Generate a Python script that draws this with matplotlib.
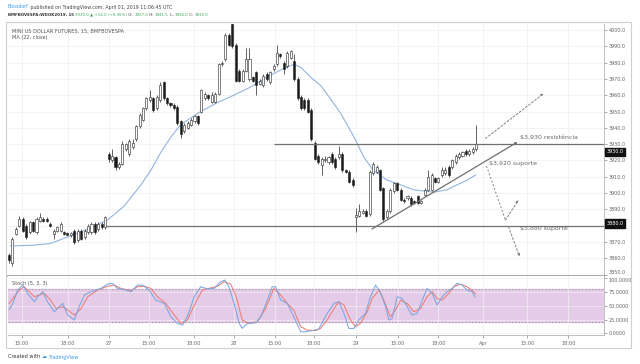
import matplotlib
matplotlib.use('Agg')
import matplotlib.pyplot as plt
from matplotlib.patches import Rectangle
from matplotlib.transforms import blended_transform_factory

plt.rcParams['font.family'] = ['DejaVu Sans']

# ---------------- data ----------------
opens = [3862, 3857, 3875, 3880, 3884, 3880, 3876, 3882, 3876, 3883,
         3884, 3884, 3881, 3875, 3877, 3877, 3876, 3875.5, 3874.5, 3877,
         3871, 3877, 3873, 3876, 3876, 3881, 3878, 3881, 3879, 3924,
         3920, 3922, 3916, 3918, 3927, 3924, 3928, 3933, 3941, 3945,
         3952, 3957, 3958, 3952, 3957, 3968, 3958, 3955, 3954, 3953,
         3944, 3938, 3940, 3942, 3944, 3947, 3950, 3958, 3960, 3956,
         3956, 3961, 3979, 3982, 3997, 4004, 3991, 3975, 3969, 3975,
         3970, 3971, 3974, 3967, 3966, 3973, 3968, 3976, 3979, 3985,
         3980, 3978, 3983, 3981, 3970, 3959, 3957, 3957, 3951, 3931,
         3923, 3917, 3920, 3919, 3924, 3921, 3922, 3924, 3914, 3913,
         3908, 3885.5, 3886, 3888, 3889, 3887, 3912, 3913, 3914, 3903,
         3885, 3889, 3901, 3906, 3902, 3896, 3897, 3897, 3895, 3898,
         3894, 3899, 3902, 3902, 3909, 3907, 3911, 3912, 3916, 3916,
         3919, 3922, 3923, 3926, 3924, 3925, 3927]
highs = [3863, 3873, 3879, 3886, 3885, 3881, 3883, 3883, 3885, 3888,
         3885, 3885, 3882, 3878, 3880, 3882, 3877, 3876, 3876, 3878,
         3878, 3878, 3878, 3881, 3882, 3882, 3882, 3882, 3886, 3925,
         3927, 3923, 3919, 3932, 3931, 3933, 3933, 3942, 3949, 3953,
         3959, 3963, 3959, 3960, 3968, 3969, 3959, 3956, 3955, 3954,
         3945, 3943, 3944, 3946, 3948, 3948, 3964, 3962, 3961, 3962,
         3962, 3980, 3981, 3998, 3998, 4006, 3992, 3976, 3976, 3989,
         3989, 3972, 3975, 3970, 3973, 3974, 3975, 3979, 3991, 3986,
         3981, 3987, 3988, 3985, 3971, 3960, 3958, 3958, 3952, 3932,
         3924, 3922, 3923, 3923, 3925, 3922, 3929, 3925, 3915, 3914,
         3909, 3891, 3893, 3890, 3890, 3914, 3919, 3917, 3915, 3904,
         3890, 3903, 3907, 3907, 3903, 3897, 3899, 3898, 3896, 3899,
         3896, 3903, 3914, 3912, 3910, 3910, 3916, 3916, 3917, 3921,
         3924, 3925, 3926, 3927, 3927, 3928, 3941.5]
lows = [3857, 3855, 3874, 3879, 3876, 3872, 3875, 3876, 3875, 3882,
        3882, 3882, 3879, 3872, 3876, 3876, 3874, 3874, 3873, 3869,
        3870, 3871, 3872, 3875, 3875, 3875, 3877, 3878, 3878, 3919,
        3919, 3914, 3915, 3917, 3926, 3923, 3927, 3932, 3940, 3944,
        3951, 3956, 3950, 3951, 3956, 3957, 3954, 3953, 3951, 3942,
        3934, 3937, 3939, 3941, 3943, 3942, 3949, 3957, 3957, 3955,
        3955, 3960, 3978, 3981, 3990, 3989, 3968, 3968, 3968, 3974,
        3969, 3968, 3960, 3966, 3965, 3969, 3967, 3975, 3978, 3983,
        3973, 3977, 3982, 3969, 3957, 3951, 3951, 3949, 3932, 3920,
        3918, 3911, 3919, 3918, 3918, 3915, 3921, 3913, 3912, 3906,
        3904, 3876, 3885, 3887, 3885, 3886, 3911, 3912, 3901, 3883,
        3884, 3888, 3900, 3901, 3895, 3894, 3896, 3892, 3893, 3893,
        3893, 3898, 3901, 3901, 3906, 3906, 3910, 3911, 3910, 3915,
        3918, 3921, 3922, 3923, 3923, 3924, 3926]
closes = [3859, 3872, 3878, 3884, 3877, 3873, 3882, 3877, 3884, 3885,
          3883, 3883, 3880, 3877, 3879, 3881, 3875, 3874.5, 3875.5, 3870,
          3877, 3872, 3877, 3880, 3881, 3876, 3881, 3879, 3885, 3921,
          3923, 3916, 3918, 3930, 3930, 3932, 3931, 3941, 3948, 3952,
          3958, 3959, 3951, 3959, 3966, 3958, 3955, 3954, 3952, 3943,
          3936, 3942, 3943, 3945, 3947, 3943, 3963, 3961, 3958, 3960,
          3961, 3979, 3980, 3997, 3991, 3990, 3969, 3969, 3975, 3982,
          3982, 3969, 3966, 3969, 3972, 3970, 3974, 3978, 3986, 3984,
          3976, 3986, 3987, 3970, 3958, 3952, 3952, 3950, 3933, 3921,
          3919, 3921, 3921, 3922, 3919, 3916, 3924, 3914, 3913, 3907,
          3905, 3886.5, 3889, 3889, 3886, 3913, 3918, 3916, 3902, 3884,
          3889, 3902, 3906, 3902, 3896, 3895, 3898, 3893, 3894, 3894,
          3895, 3902, 3910, 3911, 3907, 3909, 3914, 3914, 3911, 3920,
          3923, 3924, 3925, 3924, 3926, 3927, 3930]

ma_x = [0.5, 7, 12, 17, 23, 28.7, 33.5, 38.4, 41.3, 44.2, 47, 50, 55.8, 60.7, 65.4,
        70.3, 75, 80, 83, 85, 87.8, 90.7, 93.5, 96.5, 100.4, 103.3, 106, 110, 114,
        117.8, 123.6, 127.5, 130.4, 133, 135.8]
ma_v = [3867.5, 3868, 3869, 3873, 3878, 3883.5, 3892, 3905, 3914, 3925, 3934, 3942,
        3950, 3955.5, 3960, 3965, 3971, 3976.5, 3979, 3977, 3971, 3966, 3958, 3949,
        3934.5, 3922, 3914, 3908, 3905, 3902, 3900.5, 3902, 3905, 3907.5, 3911]

k_x = [0.1, 1.1, 2.5, 4.0, 5.4, 7.4, 8.3, 9.8, 11.2, 13.2, 14.6, 15.6, 17.1, 19.0, 20.4,
       21.9, 23.8, 26.7, 28.7, 30.1, 31.6, 33.5, 35.5, 37.4, 38.9, 40.8, 42.7, 45.2, 47.1,
       49.0, 50.5, 51.9, 53.9, 55.8, 57.3, 59.7, 61.6, 62.8, 64.0, 65.5, 67.0, 67.9, 69.4,
       71.8, 73.3, 75.2, 76.6, 77.6, 79.1, 81.0, 82.9, 84.9, 86.3, 88.3, 90.2,
       90.7, 92.6, 94.6, 96.0, 97.5, 98.9, 100.4, 101.8, 103.8, 105.2, 106.7, 108.1, 109.6,
       110.6, 111.5, 113.0, 114.4, 115.9, 117.3, 118.8, 120.3, 121.7, 123.2, 124.6, 126.1,
       127.5, 129.0, 130.4, 131.9, 133.3, 134.8, 135.6]
k_v = [43, 54, 78, 87, 72, 57, 66, 75, 57, 39, 48, 54, 33, 24, 48,
       69, 75, 81, 89, 90, 81, 79, 75, 87, 87, 78, 60, 54, 30,
       18, 15, 30, 66, 84, 81, 81, 93, 96, 84, 54, 18, 9, 18,
       19, 30, 60, 84, 84, 60, 54, 30, 3, 3, 5, 8,
       14, 36, 54, 57, 36, 9, 9, 24, 36, 66, 87, 75, 48,
       24, 27, 66, 63, 48, 33, 36, 60, 81, 72, 51, 66,
       75, 81, 90, 87, 78, 75, 66]
d_x = [0.1, 1.5, 3.0, 4.4, 5.9, 7.4, 8.8, 10.3, 11.7, 13.7, 15.6, 17.1, 19.0, 21.0, 22.9,
       25.8, 28.7, 30.6, 32.6, 35.5, 37.4, 39.3, 41.3, 43.2, 45.6, 48.1, 50.0, 51.9, 54.4,
       56.3, 58.2, 60.7, 62.6, 64.5, 66.0, 67.9, 69.9, 72.3, 74.7, 77.1, 79.1, 81.0, 82.9,
       84.9, 86.8, 89.2,
       90.7, 92.6, 94.6, 96.0, 97.5, 99.4, 100.9, 102.3, 104.3, 105.7, 107.7, 109.1, 111.0,
       112.5, 114.0, 115.9, 117.8, 119.8, 121.7, 123.2, 124.6, 126.1, 128.0, 129.5, 131.4,
       133.3, 135.3, 135.8]
d_v = [54, 66, 78, 84, 75, 66, 69, 72, 63, 45, 48, 42, 33, 45, 66,
       78, 85, 87, 81, 77, 84, 85, 81, 66, 54, 33, 18, 24, 57,
       78, 81, 85, 93, 89, 69, 24, 18, 21, 45, 81, 69, 54, 42,
       12, 6, 5,
       9, 24, 45, 57, 51, 24, 12, 18, 39, 63, 78, 60, 30,
       42, 60, 54, 39, 45, 66, 75, 63, 60, 72, 84, 89,
       84, 75, 71]

tick_pos = [3.8, 17.1, 29.1, 40.7, 53.8, 65.4, 77.3, 88.7, 100.9, 113.1, 125.0, 138.1, 150.9, 162.8]
tick_lbl = ['15:00', '18:00', '27', '15:00', '18:00', '28', '15:00', '18:00', '29',
            '15:00', '18:00', 'Apr', '15:00', '18:00']
price_ticks = list(range(3850, 4001, 10))
stoch_ticks = [0, 25, 50, 75, 100]

# ---------------- figure ----------------
W, H = 640, 364
fig = plt.figure(figsize=(6.4, 3.64), dpi=100)
fig.patch.set_facecolor('white')

def fx(px):
    return px / W

def fy(py):
    return 1 - py / H

ax = fig.add_axes([fx(8), fy(276), fx(596), (276 - 24) / H])
ax2 = fig.add_axes([fx(8), fy(335), fx(596), (335 - 276) / H], sharex=ax)

GRID = '#efefef'
TXT = '#666666'
AX_C = '#b5b5b5'

# candles
xs = list(range(len(opens)))
ax.vlines(xs, lows, highs, color='#222222', lw=0.5, zorder=3)
for i in xs:
    o, c = opens[i], closes[i]
    up = c >= o
    bottom = min(o, c)
    h = max(abs(c - o), 0.5)
    ax.bar(i, h, bottom=bottom, width=0.6, color='white' if up else '#1a1a1a',
           edgecolor='#222222', lw=0.4, zorder=4)

ax.plot(ma_x, ma_v, color='#93b4df', lw=0.8, zorder=2)

ax.set_xlim(-0.3, 173.2)
ax.set_ylim(3849.1, 4003.7)
ax.set_yticks(price_ticks)
ax.set_yticklabels(['' if p == 3880 else f'{p:.1f}' for p in price_ticks])
ax.set_xticks(tick_pos)
ax.tick_params(axis='x', length=0, labelbottom=False)
ax.yaxis.tick_right()
ax.tick_params(axis='y', labelsize=3.5, colors=TXT, length=2, width=0.4, pad=1.5)
for lab in ax.get_yticklabels():
    if lab.get_text() == '3850.0':
        lab.set_va('bottom')
ax.grid(True, color=GRID, lw=0.5, zorder=0)
for s in ['top', 'left']:
    ax.spines[s].set_visible(False)
ax.spines['right'].set_color(AX_C)
ax.spines['right'].set_linewidth(0.6)
ax.spines['bottom'].set_color('#9a9a9a')
ax.spines['bottom'].set_linewidth(1.2)

ax.text(0.007, 0.972, 'MINI US DOLLAR FUTURES, 15, BMFBOVESPA', transform=ax.transAxes,
        fontsize=3.6, color='#555555', va='center', ha='left')
ax.text(0.007, 0.946, 'MA (22, close)', transform=ax.transAxes,
        fontsize=3.6, color='#555555', va='center', ha='left')

# drawings
LC = '#707070'
ax.hlines(3930, 77, 173.2, color=LC, lw=0.9, zorder=5)
ax.hlines(3880, 28.3, 173.2, color=LC, lw=0.9, zorder=5)
ax.plot([105.7, 147.4], [3878, 3930.5], color=LC, lw=0.9, zorder=5)
ax.plot([147.4], [3930.5], marker='o', ms=1.2, color=LC, zorder=5)

def dash_arrow(p0, p1):
    ax.annotate('', xy=p1, xytext=p0,
                arrowprops=dict(arrowstyle='-|>', linestyle=(0, (2, 2)), color='#808080',
                                lw=0.7, mutation_scale=3, shrinkA=0, shrinkB=0), zorder=6)

dash_arrow((138.7, 3933.5), (155.6, 3961))
ax.plot([139, 144.5], [3916.6, 3883.4], color='#808080', lw=0.7, ls=(0, (2, 2)))
dash_arrow((144.5, 3883.4), (148.3, 3895.7))
dash_arrow((145.4, 3879.3), (148.6, 3861))

ax.text(148.8, 3934.5, '$3,930 resistência', fontsize=4.5, color='#6a6a6a', va='center', ha='left')
ax.text(139.8, 3918, '$3,920 suporte', fontsize=4.5, color='#6a6a6a', va='center', ha='left')
ax.text(148.8, 3878, '$3,880 suporte', fontsize=4.5, color='#6a6a6a', va='center', ha='left')

bt = blended_transform_factory(ax.transAxes, ax.transData)
for yv, lbl in [(3925.2, '3930.0'), (3881.3, '3880.0')]:
    ax.text(1.004, yv, lbl, transform=bt, fontsize=3.5, color='white', va='center', ha='left',
            bbox=dict(boxstyle='square,pad=0.35', fc='#111111', ec='#111111'), clip_on=False,
            zorder=10)

# stochastic
ax2.axhspan(20, 80, color='#e4cbe8', zorder=0)
ax2.axhline(80, color='#a68fab', lw=0.6, ls=(0, (2, 2)), zorder=1)
ax2.axhline(20, color='#a68fab', lw=0.6, ls=(0, (2, 2)), zorder=1)
ax2.plot(d_x, d_v, color='#ee7d72', lw=0.75, zorder=3)
ax2.plot(k_x, k_v, color='#7aa6df', lw=0.75, zorder=4)
ax2.set_ylim(-2.9, 103.4)
ax2.set_yticks(stoch_ticks)
ax2.set_yticklabels([f'{v:.4f}' for v in stoch_ticks])
ax2.yaxis.tick_right()
ax2.tick_params(axis='y', labelsize=3.5, colors=TXT, length=2, width=0.4, pad=1.5)
for lab in ax2.get_yticklabels():
    if lab.get_text() == '100.0000':
        lab.set_va('top')
ax2.set_xticks(tick_pos)
ax2.set_xticklabels(tick_lbl)
ax2.tick_params(axis='x', labelsize=3.6, colors=TXT, length=2, width=0.4, pad=2.5)
ax2.grid(True, color=GRID, lw=0.5, zorder=0)
for s in ['top', 'left']:
    ax2.spines[s].set_visible(False)
for s in ['right', 'bottom']:
    ax2.spines[s].set_color(AX_C)
    ax2.spines[s].set_linewidth(0.6)
ax2.text(0.007, 0.88, 'Stoch (5, 3, 3)', transform=ax2.transAxes, fontsize=3.6,
         color='#555555', va='center', ha='left')

# outer frame
fig.add_artist(Rectangle((fx(6), fy(348)), fx(625), (348 - 22) / H, fill=False,
                         ec='#cfcfcf', lw=0.8, transform=fig.transFigure))

# header & footer
fig.canvas.draw()
renderer = fig.canvas.get_renderer()

def seq_text(x_px, y_px, parts, fs):
    x = x_px
    for s, col, w in parts:
        t = fig.text(fx(x), fy(y_px), s, fontsize=fs, color=col, fontweight=w,
                     va='center', ha='left')
        bb = t.get_window_extent(renderer=renderer)
        x = bb.x1

G = '#3aa655'
D = '#333333'
seq_text(8, 7, [('Boosdorf', '#3d9be9', 'normal'),
                (' published on TradingView.com, April 01, 2019 11:06:45 UTC', '#444444', 'normal')], 3.4)
seq_text(8, 15, [('BMFBOVESPA:WDOK2019, 15 ', D, 'bold'),
                 ('3930.0 ▲ +14.0 (+0.35%)', G, 'normal'),
                 (' O: ', D, 'normal'), ('3927.0', G, 'normal'),
                 (' H: ', D, 'normal'), ('3941.5', G, 'normal'),
                 (' L: ', D, 'normal'), ('3926.0', G, 'normal'),
                 (' C: ', D, 'normal'), ('3930.0', G, 'normal')], 2.9)
seq_text(8, 357, [('Created with ', '#333333', 'normal'),
                  ('☁ ', '#3d9be9', 'normal'),
                  ('TradingView', '#3d9be9', 'normal')], 3.6)

fig.savefig('out.png', dpi=100, facecolor='white')
